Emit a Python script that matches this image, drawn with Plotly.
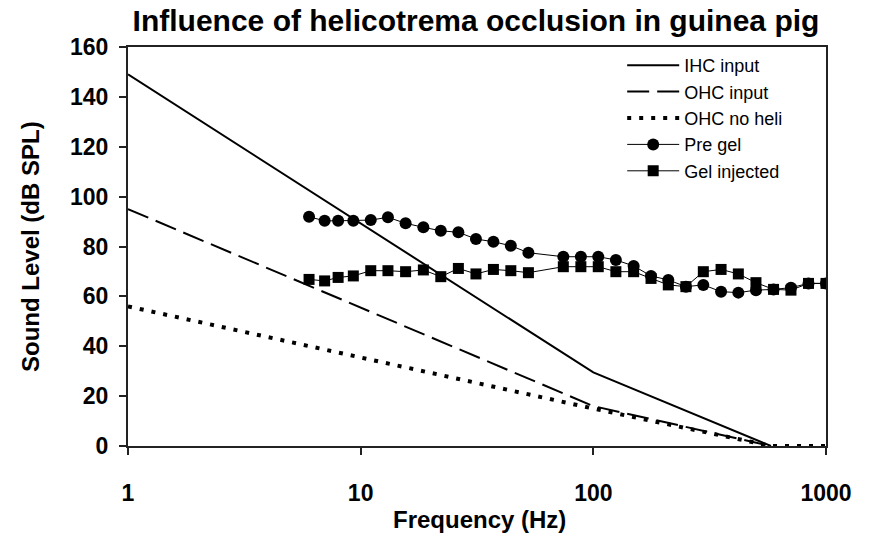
import plotly.graph_objects as go

# ---- data ----
freq_meas = [6, 7, 8, 9.3, 11.05, 13.1, 15.6, 18.6, 22.1, 26.3, 31.3, 37.2, 44.2, 52.6,
             74.3, 88.4, 105, 125, 149, 177, 210, 250, 297, 354, 420, 500, 595, 707, 841, 1000]
pre_gel = [91.9, 90.3, 90.3, 90.3, 90.6, 91.7, 89.3, 87.7, 86.3, 85.7, 83.0, 81.9, 80.3, 77.5,
           75.9, 75.9, 75.9, 74.6, 72.2, 68.2, 66.6, 63.9, 64.6, 61.9, 61.5, 62.5, 62.8, 63.5, 65.2, 65.2]
gel_injected = [66.8, 66.2, 67.6, 68.2, 70.3, 70.3, 69.9, 70.6, 67.9, 71.2, 69.0, 70.8, 70.3, 69.5,
                71.9, 71.9, 71.9, 69.9, 69.9, 67.2, 64.6, 63.9, 69.9, 70.8, 69.0, 65.5, 62.8, 62.5, 65.2, 65.2]

ihc_f = [1, 100, 580]
ihc_v = [149, 29.5, 0]
ohc_f = [1, 100, 580]
ohc_v = [95, 16, 0]
noheli_f = [1, 100, 580, 1000]
noheli_v = [56, 15, 0, 0]

x_ticks = [1, 10, 100, 1000]
y_ticks = [0, 20, 40, 60, 80, 100, 120, 140, 160]

FONT = "Liberation Sans, Arial, sans-serif"

fig = go.Figure()
fig.add_trace(go.Scatter(x=ihc_f, y=ihc_v, mode="lines", name="IHC input",
                         line=dict(color="black", width=2)))
fig.add_trace(go.Scatter(x=ohc_f, y=ohc_v, mode="lines", name="OHC input",
                         line=dict(color="black", width=2, dash="22px,8px")))
fig.add_trace(go.Scatter(x=noheli_f, y=noheli_v, mode="lines", name="OHC no heli",
                         line=dict(color="black", width=4, dash="4px,8px")))
fig.add_trace(go.Scatter(x=freq_meas, y=pre_gel, mode="lines+markers", name="Pre gel",
                         line=dict(color="black", width=1),
                         marker=dict(symbol="circle", size=12, color="black")))
fig.add_trace(go.Scatter(x=freq_meas, y=gel_injected, mode="lines+markers", name="Gel injected",
                         line=dict(color="black", width=1),
                         marker=dict(symbol="square", size=11, color="black")))

L, R, T, B = 128, 826, 47, 446
W, H = 886, 533

fig.update_layout(
    width=W, height=H,
    margin=dict(l=L, r=W - R, t=T, b=H - B, autoexpand=False),
    paper_bgcolor="white", plot_bgcolor="white",
    font=dict(family=FONT, color="black"),
    title=dict(text="<b>Influence of helicotrema occlusion in guinea pig</b>",
               x=476 / W, xanchor="center", y=1 - 20 / H, yanchor="middle",
               font=dict(size=30, family=FONT, color="black")),
    showlegend=True,
    legend=dict(x=0.708, y=1.0, xanchor="left", yanchor="top",
                bgcolor="rgba(0,0,0,0)", font=dict(size=18, family=FONT, color="black"),
                itemwidth=52),
    annotations=[
        dict(text="<b>Frequency (Hz)</b>", xref="paper", yref="paper",
             x=(479 - L) / (R - L), y=(B - 519) / (B - T), xanchor="center", yanchor="middle",
             showarrow=False, font=dict(size=24, family=FONT, color="black")),
        dict(text="<b>Sound Level (dB SPL)</b>", xref="paper", yref="paper",
             x=(30 - L) / (R - L), y=(B - 247) / (B - T), xanchor="center", yanchor="middle",
             textangle=-90, showarrow=False, font=dict(size=24, family=FONT, color="black")),
    ],
)
fig.update_xaxes(type="log", range=[0, 3], tickvals=x_ticks,
                 ticktext=[f"<b>{v}</b>" for v in x_ticks],
                 tickfont=dict(size=23, family=FONT, color="black"),
                 ticks="outside", ticklen=7, tickwidth=1.5, tickcolor="#222",
                 ticklabelstandoff=18, automargin=False,
                 showline=True, linewidth=2, linecolor="#222", mirror=True,
                 showgrid=False, zeroline=False)
fig.update_yaxes(range=[0, 160], tickvals=y_ticks,
                 ticktext=[f"<b>{v}</b>" for v in y_ticks],
                 tickfont=dict(size=23, family=FONT, color="black"),
                 ticks="outside", ticklen=7, tickwidth=1.5, tickcolor="#222",
                 ticklabelstandoff=6, automargin=False,
                 showline=True, linewidth=2, linecolor="#222", mirror=True,
                 showgrid=False, zeroline=False)

fig.write_html("out.html",
               config={"displayModeBar": False},
               post_script="document.body.style.margin='0';document.body.style.overflow='hidden';")
